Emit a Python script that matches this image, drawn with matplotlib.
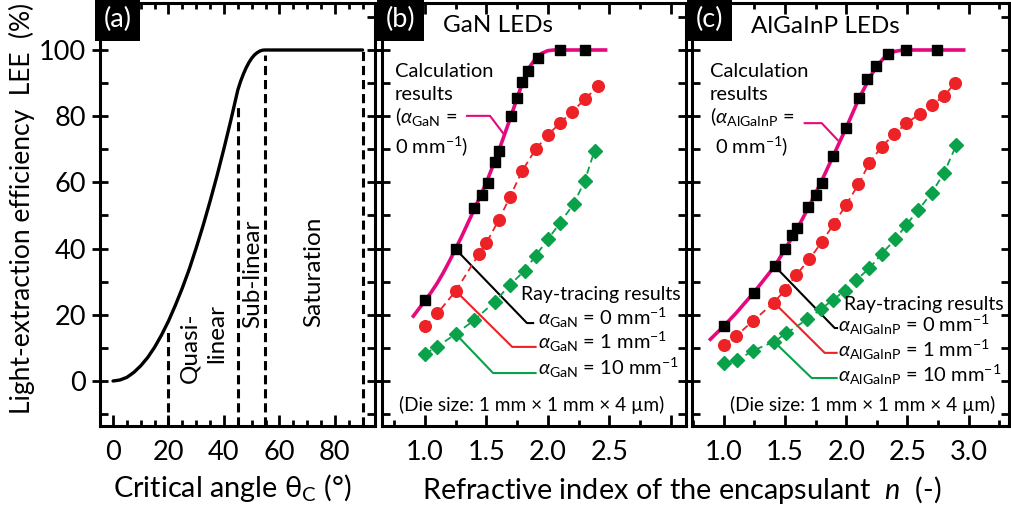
import matplotlib
matplotlib.use('Agg')
import matplotlib.pyplot as plt
from matplotlib.ticker import MultipleLocator

plt.rcParams['font.family'] = ['Lato', 'DejaVu Sans']
plt.rcParams['mathtext.fontset'] = 'custom'
plt.rcParams['mathtext.rm'] = 'Lato'
plt.rcParams['mathtext.it'] = 'Lato:italic'
plt.rcParams['mathtext.bf'] = 'Lato:bold'
plt.rcParams['mathtext.fallback'] = 'stixsans'
plt.rcParams['axes.linewidth'] = 2.2

# ---- data ----
# (a) LEE vs critical angle
theta_a = [0, 2.5, 5, 7.5, 10, 12.5, 15, 17.5, 20, 22.5, 25, 27.5, 30, 32.5, 35, 37.5,
           40, 42.5, 45, 46, 47, 48, 49, 50, 51, 52, 53, 54, 54.7, 90]
lee_a = [0, 0.3, 1.1, 2.6, 4.6, 7.1, 10.2, 13.9, 18.1, 22.9, 28.1, 33.8, 40.2, 47.0, 54.3,
         62.0, 70.2, 78.8, 87.9, 90.5, 92.7, 94.6, 96.2, 97.5, 98.5, 99.2, 99.7, 99.95, 100, 100]
region_x = [20, 45, 54.7, 90]
region_top = [15.5, 83.5, 98.5, 100]

# (b) GaN LEDs
calc_b_n = [0.905, 1.0, 1.05, 1.1, 1.15, 1.2, 1.25, 1.3, 1.4, 1.5, 1.6, 1.7, 1.75, 1.8,
            1.85, 1.9, 1.95, 2.0, 2.05, 2.47]
calc_b_lee = [19.6, 24.3, 26.8, 29.6, 32.8, 36.3, 40, 43.8, 51.8, 60, 69.5, 80, 85.5, 90.8,
              94.8, 97.4, 99, 99.8, 100, 100]
sq_b_n = [1.0, 1.25, 1.40, 1.46, 1.51, 1.57, 1.60, 1.70, 1.75, 1.79, 1.84, 1.92, 2.10, 2.30]
sq_b_lee = [24.5, 39.8, 52.2, 56.2, 59.9, 66.3, 69.6, 80.1, 85.6, 90.4, 93.7, 97.5, 100, 100]
red_b_n = [1.0, 1.10, 1.25, 1.44, 1.50, 1.60, 1.69, 1.79, 1.90, 2.00, 2.10, 2.20, 2.30, 2.41]
red_b_lee = [16.5, 20.4, 27.2, 38.4, 41.8, 48.6, 55.5, 63.4, 70.0, 74.3, 78.0, 81.4, 85.1, 89.1]
grn_b_n = [1.0, 1.10, 1.25, 1.40, 1.57, 1.69, 1.81, 1.90, 2.00, 2.10, 2.21, 2.30, 2.38]
grn_b_lee = [8.2, 10.4, 14.2, 18.4, 24.0, 29.0, 33.3, 37.8, 42.8, 47.8, 53.5, 60.4, 69.6]

# (c) AlGaInP LEDs
calc_c_n = [0.89, 1.0, 1.1, 1.245, 1.416, 1.5, 1.6, 1.7, 1.8, 1.9, 2.0, 2.1, 2.2, 2.25,
            2.3, 2.35, 2.4, 2.45, 2.5, 2.96]
calc_c_lee = [12.6, 16.6, 20.5, 26.7, 34.7, 39.8, 46, 53, 60.5, 68.5, 76.5, 85, 92.2, 95,
              97.3, 98.8, 99.6, 99.9, 100, 100]
sq_c_n = [1.0, 1.245, 1.416, 1.50, 1.556, 1.597, 1.69, 1.75, 1.80, 1.89, 2.0, 2.105, 2.17,
          2.245, 2.34, 2.49, 2.74]
sq_c_lee = [16.6, 26.7, 34.7, 39.8, 44.1, 46.1, 52.7, 56.2, 59.9, 68.0, 76.5, 85.6, 91.2,
            95.2, 98.8, 100, 100]
red_c_n = [1.0, 1.10, 1.24, 1.41, 1.50, 1.59, 1.70, 1.80, 1.90, 2.0, 2.10, 2.19, 2.29, 2.39,
           2.49, 2.60, 2.70, 2.80, 2.89]
red_c_lee = [10.9, 13.6, 18.2, 23.7, 27.5, 32.0, 36.8, 42.0, 47.5, 53.3, 59.4, 65.9, 70.8,
             74.5, 77.8, 80.7, 83.4, 86.1, 90.1]
grn_c_n = [1.0, 1.11, 1.24, 1.41, 1.51, 1.68, 1.79, 1.89, 1.99, 2.08, 2.19, 2.29, 2.40, 2.49,
           2.59, 2.70, 2.80, 2.90]
grn_c_lee = [5.3, 6.3, 9.2, 11.9, 14.4, 18.6, 21.6, 24.5, 27.3, 30.4, 34.1, 38.4, 42.8, 47.1,
             51.7, 56.9, 62.9, 71.3]

MAG = '#e5097f'
RED = '#ec2227'
GRN = '#0aa14b'

fig = plt.figure(figsize=(10.12, 5.08), dpi=100)
ax_a = fig.add_axes([0.0988, 0.1614, 0.2718, 0.8327])
ax_b = fig.add_axes([0.3775, 0.1614, 0.3004, 0.8327])
ax_c = fig.add_axes([0.6838, 0.1614, 0.3132, 0.8327])

YLIM = (-13.6, 114.2)


def style(ax, xmaj, xmin):
    ax.set_ylim(*YLIM)
    ax.xaxis.set_major_locator(MultipleLocator(xmaj))
    ax.xaxis.set_minor_locator(MultipleLocator(xmin))
    ax.yaxis.set_major_locator(MultipleLocator(20))
    ax.yaxis.set_minor_locator(MultipleLocator(10))
    ax.tick_params(axis='x', which='major', direction='in', length=8, width=2,
                   top=True, labelsize=19.5, pad=10)
    ax.tick_params(axis='x', which='minor', direction='in', length=4, width=2, top=True)
    ax.tick_params(axis='y', which='major', direction='inout', length=12, width=2,
                   right=True, labelsize=19.5, pad=4)
    ax.tick_params(axis='y', which='minor', direction='in', length=6, width=2, right=True)


def tag(ax, s):
    ax.text(0.012, 0.99, s, transform=ax.transAxes, ha='left', va='top', color='white',
            fontsize=19.5, bbox=dict(facecolor='black', edgecolor='none',
                                     boxstyle='square,pad=0.32'))


# ---- (a) ----
style(ax_a, 20, 5)
ax_a.set_xlim(-4.7, 94.5)
ax_a.set_xticks([0, 20, 40, 60, 80])
ax_a.set_yticks([0, 20, 40, 60, 80, 100])
ax_a.plot(theta_a, lee_a, color='black', lw=2.4, solid_capstyle='round')
for x, top in zip(region_x, region_top):
    ax_a.plot([x, x], [YLIM[0], top], color='black', lw=2.2, ls=(0, (3, 1.6)))
ax_a.text(27.7, -0.5, 'Quasi-', rotation=90, fontsize=17.5, ha='center', va='bottom')
ax_a.text(37.4, 5.5, 'linear', rotation=90, fontsize=17.5, ha='center', va='bottom')
ax_a.text(50.3, 16, 'Sub-linear', rotation=90, fontsize=17.5, ha='center', va='bottom')
ax_a.text(72.4, 16.3, 'Saturation', rotation=90, fontsize=17.5, ha='center', va='bottom')
tag(ax_a, '(a)')


def ray_panel(ax, calc_n, calc_lee, sq_n, sq_lee, rn, rl, gn, gl):
    ax.plot(calc_n, calc_lee, color=MAG, lw=2.6, zorder=2)
    ax.plot(sq_n, sq_lee, ls='none', marker='s', ms=7, color='black', zorder=4)
    ax.plot(rn, rl, ls=(0, (4, 2.5)), lw=1.3, marker='o', ms=8.4, color=RED, zorder=3)
    ax.plot(gn, gl, ls=(0, (4, 2.5)), lw=1.3, marker='D', ms=6.8, color=GRN, zorder=3)


# ---- (b) ----
style(ax_b, 0.5, 0.25)
ax_b.set_xlim(0.65, 3.125)
ax_b.set_xticks([1.0, 1.5, 2.0, 2.5, 3.0])
ax_b.set_xticklabels(['1.0', '1.5', '2.0', '2.5', ''])
ax_b.tick_params(axis='y', labelleft=False)
ray_panel(ax_b, calc_b_n, calc_b_lee, sq_b_n, sq_b_lee, red_b_n, red_b_lee, grn_b_n, grn_b_lee)
tag(ax_b, '(b)')
ax_b.text(1.15, 107.5, 'GaN LEDs', fontsize=17.5, ha='left', va='center')
fs = 14.5
ax_b.text(0.755, 91.8, 'Calculation', fontsize=fs)
ax_b.text(0.755, 84.9, 'results', fontsize=fs)
ax_b.text(0.755, 78.0, r'($\alpha_{\mathrm{GaN}}$ =', fontsize=fs)
ax_b.text(0.755, 68.9, r'0 mm$^{-1}$)', fontsize=fs)
ax_b.plot([1.342, 1.529, 1.635], [80.1, 80.1, 74.9], color=MAG, lw=1.5)
ax_b.text(3.08, 24.5, 'Ray-tracing results', fontsize=14, ha='right')
ax_b.plot([1.25, 1.83, 1.88], [39.8, 17.5, 17.5], color='black', lw=1.5, zorder=1)
ax_b.plot([1.25, 1.71, 1.90], [27.2, 10.3, 10.3], color=RED, lw=1.5, zorder=1)
ax_b.plot([1.25, 1.554, 1.90], [14.2, 2.4, 2.4], color=GRN, lw=1.5, zorder=1)
ax_b.text(1.92, 16.9, r'$\alpha_{\mathrm{GaN}}$ = 0 mm$^{-1}$', fontsize=fs)
ax_b.text(1.92, 9.7, r'$\alpha_{\mathrm{GaN}}$ = 1 mm$^{-1}$', fontsize=fs)
ax_b.text(1.92, 1.8, r'$\alpha_{\mathrm{GaN}}$ = 10 mm$^{-1}$', fontsize=fs)
ax_b.text(1.87, -7.3, '(Die size: 1 mm \u00d7 1 mm \u00d7 4 \u00b5m)', fontsize=13.7,
          ha='center', va='center')

# ---- (c) ----
style(ax_c, 0.5, 0.25)
ax_c.set_xlim(0.74, 3.33)
ax_c.set_xticks([1.0, 1.5, 2.0, 2.5, 3.0])
ax_c.set_xticklabels(['1.0', '1.5', '2.0', '2.5', '3.0'])
ax_c.tick_params(axis='y', labelleft=False)
ray_panel(ax_c, calc_c_n, calc_c_lee, sq_c_n, sq_c_lee, red_c_n, red_c_lee, grn_c_n, grn_c_lee)
tag(ax_c, '(c)')
ax_c.text(1.22, 107, 'AlGaInP LEDs', fontsize=17.5, ha='left', va='center')
ax_c.text(0.886, 91.8, 'Calculation', fontsize=fs)
ax_c.text(0.886, 84.9, 'results', fontsize=fs)
ax_c.text(0.886, 78.0, r'($\alpha_{\mathrm{AlGaInP}}$ =', fontsize=fs)
ax_c.text(0.927, 68.9, r'0 mm$^{-1}$)', fontsize=fs)
ax_c.plot([1.661, 1.80, 1.93], [77.9, 77.9, 72.8], color=MAG, lw=1.5)
ax_c.text(3.29, 21.5, 'Ray-tracing results', fontsize=14, ha='right')
ax_c.plot([1.416, 1.906, 1.925], [34.7, 16.0, 16.0], color='black', lw=1.5, zorder=1)
ax_c.plot([1.41, 1.824, 1.922], [23.7, 8.5, 8.5], color=RED, lw=1.5, zorder=1)
ax_c.plot([1.41, 1.718, 1.922], [11.9, 0.9, 0.9], color=GRN, lw=1.5, zorder=1)
ax_c.text(1.93, 14.9, r'$\alpha_{\mathrm{AlGaInP}}$ = 0 mm$^{-1}$', fontsize=fs)
ax_c.text(1.93, 7.3, r'$\alpha_{\mathrm{AlGaInP}}$ = 1 mm$^{-1}$', fontsize=fs)
ax_c.text(1.93, -0.2, r'$\alpha_{\mathrm{AlGaInP}}$ = 10 mm$^{-1}$', fontsize=fs)
ax_c.text(2.135, -7.3, '(Die size: 1 mm \u00d7 1 mm \u00d7 4 \u00b5m)', fontsize=13.7,
          ha='center', va='center')

# ---- shared labels ----
fig.text(0.022, 0.59, 'Light-extraction efficiency  LEE  (%)', rotation=90,
         fontsize=19, ha='center', va='center')
fig.text(232 / 1012, 1 - 488 / 508, 'Critical angle $\\mathrm{\\theta_C}$ (\u00b0)',
         fontsize=20.8, ha='center', va='center')
fig.text(682 / 1012, 1 - 490 / 508, r'Refractive index of the encapsulant  $n$  (-)',
         fontsize=20.8, ha='center', va='center')

fig.savefig('out.png', dpi=100)
